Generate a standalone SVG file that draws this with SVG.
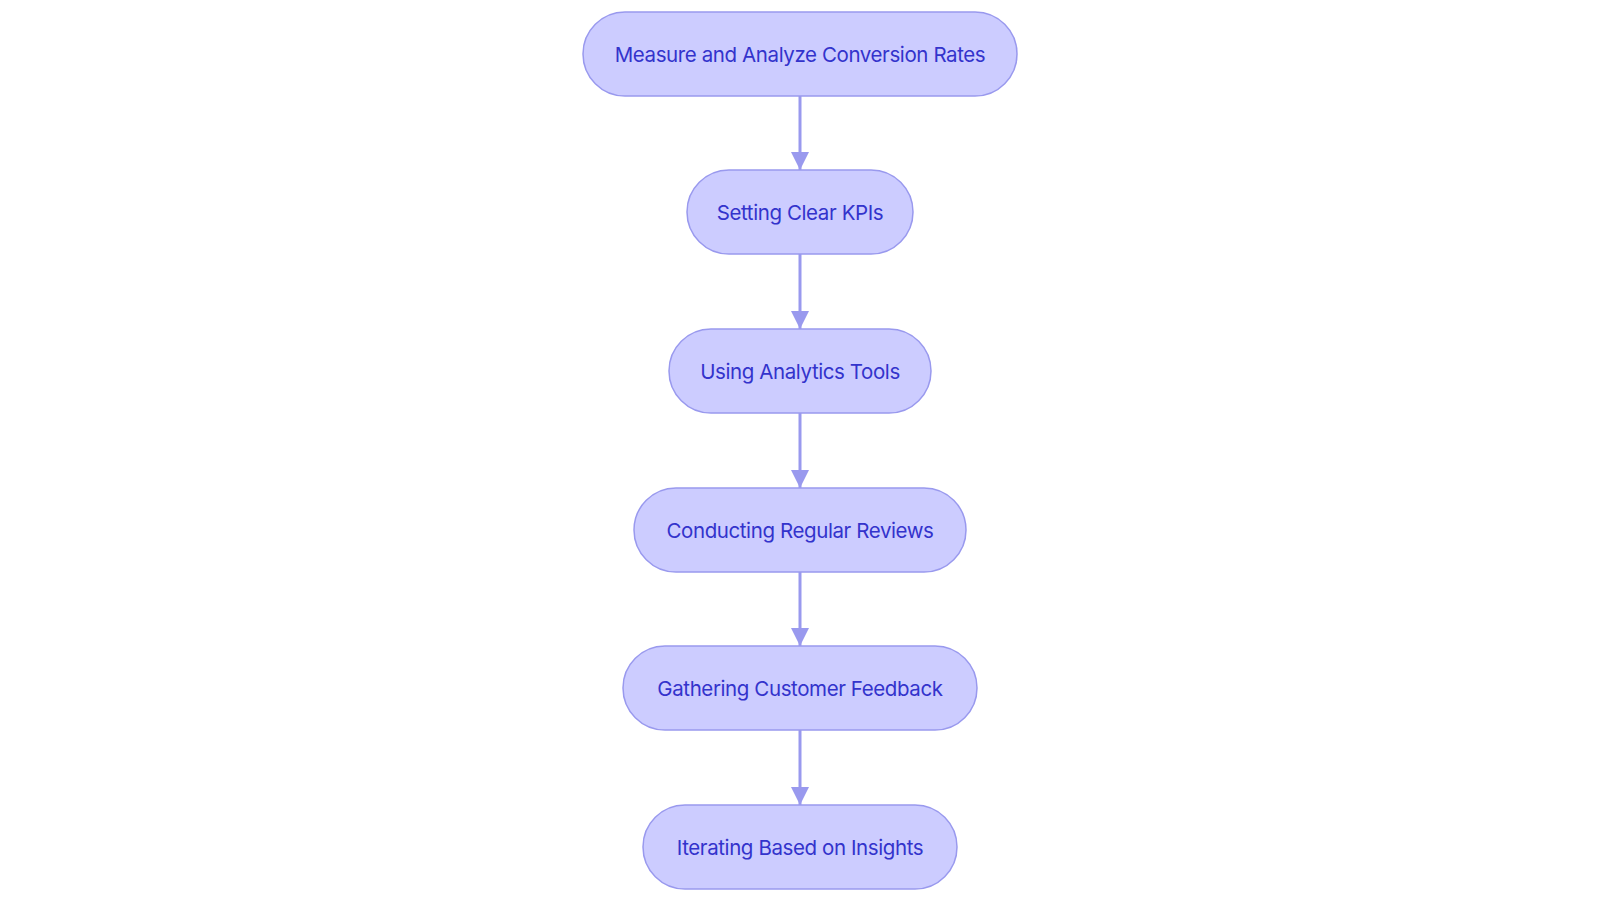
<svg xmlns="http://www.w3.org/2000/svg" width="1600" height="903" viewBox="0 0 1600 903">
<style>
.n rect{fill:#CCCCFF;stroke:#9999EE;stroke-width:1.5}
.n text{fill:#3333CC;font-family:Inter,"Noto Sans",sans-serif;font-size:20.5px;text-anchor:middle;dominant-baseline:central;letter-spacing:-0.4px}
.c line{stroke:#9999EE;stroke-width:3;marker-end:url(#a)}
</style>
<defs><marker id="a" viewBox="0 0 10 10" refX="10" refY="5" markerWidth="6" markerHeight="6" markerUnits="strokeWidth" orient="auto"><path d="M0,0L10,5L0,10z" fill="#9999EE"/></marker></defs>
<rect width="1600" height="903" fill="#fff"/>
<g class="c">
<line x1="800" y1="96" x2="800" y2="170"/>
<line x1="800" y1="254" x2="800" y2="329"/>
<line x1="800" y1="413" x2="800" y2="488"/>
<line x1="800" y1="572" x2="800" y2="646"/>
<line x1="800" y1="730" x2="800" y2="805"/>
</g>
<g id="n1" class="n"><rect x="583" y="12" width="434" height="84" rx="42"/><text x="800" y="54">Measure and Analyze Conversion Rates</text></g>
<g id="n2" class="n"><rect x="687" y="170" width="226" height="84" rx="42"/><text x="800" y="212">Setting Clear KPIs</text></g>
<g id="n3" class="n"><rect x="669" y="329" width="262" height="84" rx="42"/><text x="800" y="371">Using Analytics Tools</text></g>
<g id="n4" class="n"><rect x="634" y="488" width="332" height="84" rx="42"/><text x="800" y="530">Conducting Regular Reviews</text></g>
<g id="n5" class="n"><rect x="623" y="646" width="354" height="84" rx="42"/><text x="800" y="688">Gathering Customer Feedback</text></g>
<g id="n6" class="n"><rect x="643" y="805" width="314" height="84" rx="42"/><text x="800" y="847">Iterating Based on Insights</text></g>
</svg>
